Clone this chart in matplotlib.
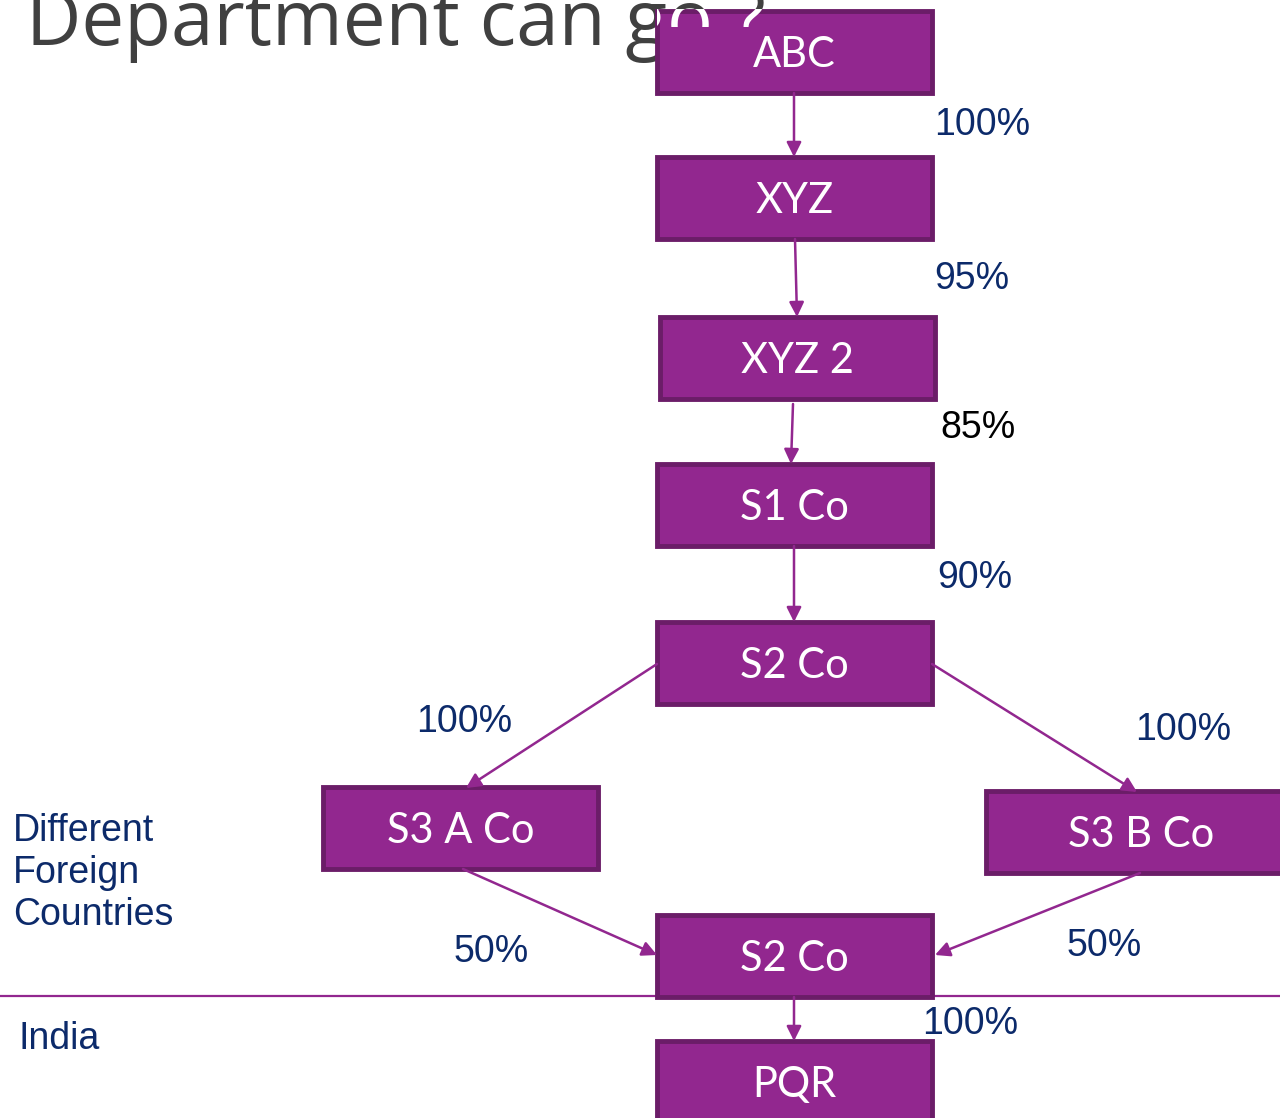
import matplotlib.pyplot as plt
from matplotlib.patches import Rectangle

# boxes: label, left, top, width, height (pixel space of the slide)
box_names = ["ABC", "XYZ", "XYZ 2", "S1 Co", "S2 Co", "S3 A Co", "S3 B Co", "S2 Co", "PQR"]
box_left = [657, 657, 660, 657, 657, 323, 986, 657, 657]
box_top = [11, 157, 317, 464, 622, 787, 791, 915, 1041]
box_w = [275, 275, 275, 275, 275, 275, 310, 275, 275]
box_h = 82

# arrows: (x0, y0) -> (x1, y1)
arrows = [
    ((794, 93), (794, 157)),
    ((795, 239), (797, 317)),
    ((793, 404), (791, 464)),
    ((794, 546), (794, 622)),
    ((657, 664), (466, 788)),
    ((932, 664), (1137, 792)),
    ((463, 869), (657, 955)),
    ((1140, 873), (935, 955)),
    ((794, 997), (794, 1041)),
]

pct_labels = ["100%", "95%", "85%", "90%", "100%", "100%", "50%", "50%", "100%"]
pct_x = [934, 934, 940, 937, 416, 1135, 454, 1067, 922]
pct_y = [125, 279, 428, 578, 722, 730, 952, 946, 1024]
pct_col = ["#0c2a6a", "#0c2a6a", "black", "#0c2a6a", "#0c2a6a", "#0c2a6a", "#0c2a6a", "#0c2a6a", "#0c2a6a"]

side_labels = ["Different\nForeign\nCountries", "India"]
side_x = [13, 19]
side_y = [873, 1039]

title = "Department can go ?"

fill = "#92278f"
edge = "#6b1d68"
navy = "#0c2a6a"

fig = plt.figure(figsize=(12.8, 11.18), dpi=100)
ax = fig.add_axes([0, 0, 1, 1])
ax.set_xlim(0, 1280)
ax.set_ylim(1118, 0)
ax.axis("off")

# title, partly hidden behind the first box
ax.text(26, 45, title, fontsize=55, family="Open Sans",
        color="#404040", va="baseline", ha="left", zorder=1)

for name, l, t, w in zip(box_names, box_left, box_top, box_w):
    ax.add_patch(Rectangle((l, t), w, box_h, facecolor=fill, edgecolor=edge,
                           linewidth=3.5, zorder=3))
    ax.text(l + w / 2, t + box_h / 2 + 3, name, fontsize=30, family="Lato",
            color="white", ha="center", va="center", zorder=4)

# top strip of the title letters shows white over the first box
strip = Rectangle((657, 9), 275, 18, transform=ax.transData)
wt = ax.text(26, 45, title, fontsize=55, family="Open Sans",
             color="white", va="baseline", ha="left", zorder=3.5)
wt.set_clip_on(True)
wt.set_clip_path(strip)

for (x0, y0), (x1, y1) in arrows:
    ax.annotate("", xy=(x1, y1), xytext=(x0, y0), zorder=5,
                arrowprops=dict(arrowstyle="-|>", color=fill, lw=1.8,
                                mutation_scale=22, shrinkA=0, shrinkB=0))

ax.plot([0, 1280], [996, 996], color=fill, lw=1.6, zorder=2)

for s, x, y, c in zip(pct_labels, pct_x, pct_y, pct_col):
    ax.text(x, y, s, fontsize=27, family="Liberation Sans", color=c,
            ha="left", va="center", zorder=6)

for s, x, y in zip(side_labels, side_x, side_y):
    ax.text(x, y, s, fontsize=27, family="Liberation Sans", color=navy,
            ha="left", va="center", linespacing=1.2, zorder=6)

fig.savefig("out.png", dpi=100)
